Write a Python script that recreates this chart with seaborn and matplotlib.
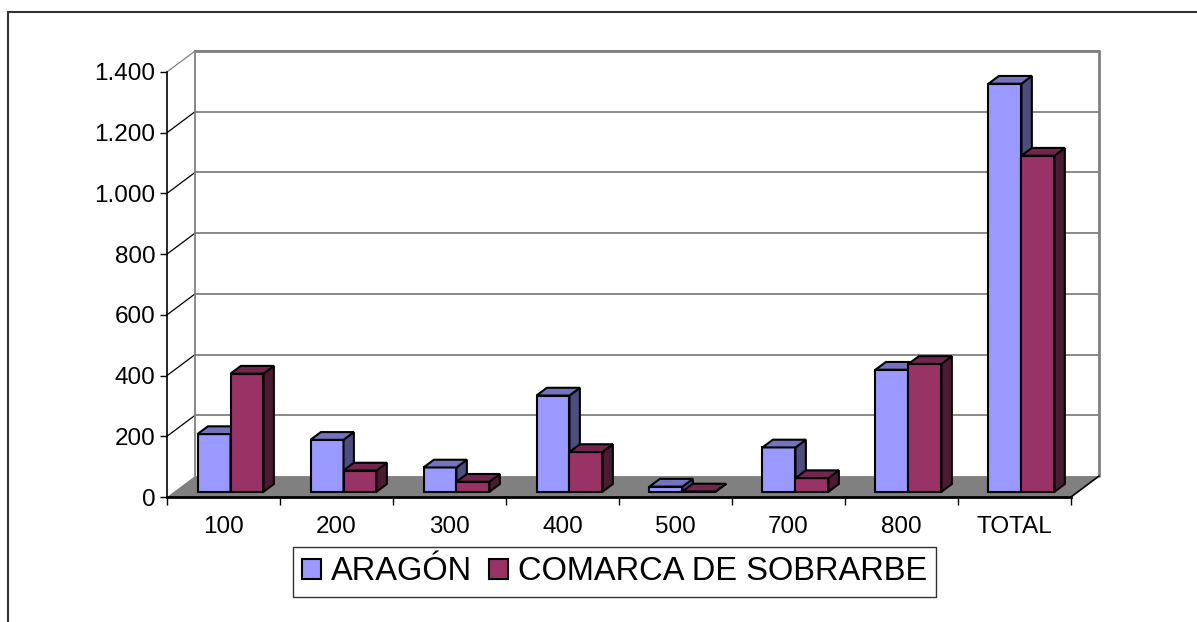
import pandas as pd
import numpy as np
import matplotlib
matplotlib.use("Agg")
import matplotlib.pyplot as plt
import seaborn as sns
from matplotlib.patches import Polygon, Patch, Rectangle
from matplotlib.ticker import FuncFormatter

categorias = ["100", "200", "300", "400", "500", "700", "800", "TOTAL"]
aragon = [190, 171, 80, 317, 17, 146, 402, 1344]
sobrarbe = [389, 70, 33, 131, 1, 45, 421, 1107]
series = ["ARAGÓN", "COMARCA DE SOBRARBE"]
y_ticks = [0, 200, 400, 600, 800, 1000, 1200, 1400]

front_cols = ["#9999FF", "#993366"]
side_cols = ["#4D4D80", "#4D1A33"]
top_cols = ["#7373BF", "#73264D"]

df = pd.DataFrame({
    "cat": categorias * 2,
    "serie": [series[0]] * len(categorias) + [series[1]] * len(categorias),
    "valor": aragon + sobrarbe,
})

sns.set_style("white")
plt.rcParams["font.family"] = ["Liberation Sans", "DejaVu Sans"]
plt.rcParams["text.color"] = "black"
plt.rcParams["xtick.color"] = "black"
plt.rcParams["ytick.color"] = "black"
plt.rcParams["xtick.labelcolor"] = "black"
plt.rcParams["ytick.labelcolor"] = "black"

W, H = 1197, 622
fig = plt.figure(figsize=(W / 100, H / 100), dpi=100)
ax = fig.add_axes([167 / W, (H - 497) / H, (1099 - 167) / W, (497 - 51) / H])

sns.barplot(data=df, x="cat", y="valor", hue="serie", order=categorias,
            hue_order=series, palette=front_cols, saturation=1,
            width=0.584, gap=0, edgecolor="black", linewidth=1.5,
            legend=False, ax=ax)
bars = sorted(ax.patches, key=lambda p: p.get_x())

# depth of the 3d box, in data units (set after seaborn fixes the limits)
DX, DY = 0.248, 69
ymax = y_ticks[-1]
n = len(categorias)
ax.set_xlim(-0.5, n - 0.5 + DX)
ax.set_ylim(0, ymax + DY)

# back wall and floor
gray = "#808080"
floor = Polygon([(-0.5, 0), (n - 0.5, 0), (n - 0.5 + DX, DY), (-0.5 + DX, DY)],
                closed=True, facecolor=gray, edgecolor="none", zorder=1)
ax.add_patch(floor)
ax.plot([n - 0.5, n - 0.5 + DX], [0, DY], color="black", lw=1.2, zorder=1.5,
        clip_on=False)
for v in y_ticks[1:]:
    ax.plot([-0.5 + DX, n - 0.5 + DX], [v + DY, v + DY], color=gray, lw=1.3,
            zorder=0.5, clip_on=False)
    ax.plot([-0.5, -0.5 + DX], [v, v + DY],
            color=gray if v == ymax else "black", lw=0.9, zorder=0.5,
            clip_on=False)
ax.plot([-0.5 + DX, -0.5 + DX], [DY, ymax + DY], color=gray, lw=1.3,
        zorder=0.6, clip_on=False)
ax.plot([n - 0.5 + DX, n - 0.5 + DX], [DY, ymax + DY], color=gray, lw=2,
        zorder=0.6, clip_on=False)
ax.plot([-0.5 + DX, n - 0.5 + DX], [ymax + DY, ymax + DY], color=gray, lw=2,
        zorder=0.6, clip_on=False)

# 3d faces for the bars
sx, sy = 0.25 * DX, 0.25 * DY
bx, by = 0.37 * DX, 0.37 * DY
for i, p in enumerate(bars):
    k = 0 if p.get_facecolor()[2] > 0.8 else 1
    p.set_x(p.get_x() + sx)
    p.set_y(p.get_y() + sy)
    z = 3 + i * 0.1
    p.set_zorder(z)
    p.set_joinstyle("miter")
    x0, w, y0, h = p.get_x(), p.get_width(), p.get_y(), p.get_height()
    side = Polygon([(x0 + w, y0), (x0 + w + bx, y0 + by),
                    (x0 + w + bx, y0 + h + by), (x0 + w, y0 + h)],
                   closed=True, facecolor=side_cols[k], edgecolor="black",
                   lw=1.5, joinstyle="miter", zorder=z)
    top = Polygon([(x0, y0 + h), (x0 + w, y0 + h), (x0 + w + bx, y0 + h + by),
                   (x0 + bx, y0 + h + by)],
                  closed=True, facecolor=top_cols[k], edgecolor="black",
                  lw=1.5, joinstyle="miter", zorder=z)
    ax.add_patch(side)
    ax.add_patch(top)

# axes
for s in ["top", "right"]:
    ax.spines[s].set_visible(False)
ax.spines["left"].set_bounds(0, ymax)
ax.spines["bottom"].set_bounds(-0.5, n - 0.5)
ax.spines["left"].set_color("black")
ax.spines["bottom"].set_color("black")
ax.spines["left"].set_linewidth(1.2)
ax.spines["bottom"].set_linewidth(2)
ax.spines["left"].set_zorder(2)
ax.spines["bottom"].set_zorder(2)

ax.set_yticks(y_ticks)
ax.yaxis.set_major_formatter(FuncFormatter(lambda v, _: f"{int(v):,}".replace(",", ".")))
ax.tick_params(axis="y", which="major", direction="out", length=5, width=1,
               color="black", pad=3.5, labelsize=17.5, left=True)
ax.set_xticks(range(n))
ax.set_xticklabels(categorias)
ax.set_xticks(np.arange(-0.5, n, 1.0), minor=True)
ax.tick_params(axis="x", which="major", length=0, pad=14, labelsize=17.5)
ax.tick_params(axis="x", which="minor", direction="out", length=6, width=1,
               color="black", bottom=True)
ax.set_xlabel("")
ax.set_ylabel("")
ax.grid(False)

# legend
handles = [Patch(facecolor=c, edgecolor="black", lw=1.5) for c in front_cols]
leg = fig.legend(handles, series, loc="center",
                 bbox_to_anchor=((294 + 935) / 2 / W, 1 - 572 / H),
                 ncol=2, fontsize=23.5, frameon=True, fancybox=False,
                 handlelength=0.6, handleheight=0.6, handletextpad=0.3,
                 columnspacing=0.5, borderpad=0.28, borderaxespad=0)
leg.get_frame().set_edgecolor("black")
leg.get_frame().set_linewidth(1)

# outer frame of the chart
fig.patches.append(Rectangle((8 / W, -0.2), 1.2, (H - 12) / H + 0.2,
                             transform=fig.transFigure, fill=False,
                             edgecolor="#333333", lw=1.5))

fig.savefig("out.png", dpi=100)
